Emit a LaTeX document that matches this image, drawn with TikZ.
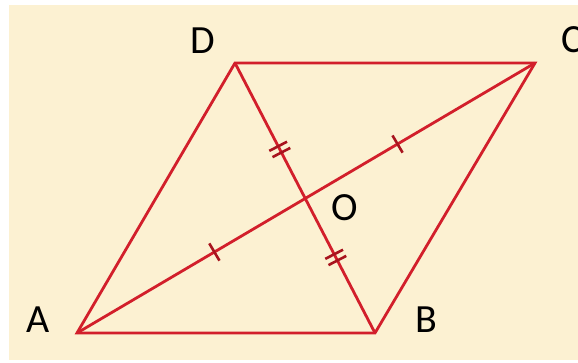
\documentclass[tikz,border=0pt]{standalone}
\usepackage{fontspec}
\setmainfont{Carlito}
\usetikzlibrary{decorations.markings}
\definecolor{PaperCream}{HTML}{FCF1D2}
\definecolor{EdgeRed}{HTML}{D21F2B}
\definecolor{TickRed}{HTML}{A8141E}

\tikzset{
    edge/.style={EdgeRed, line width=2.8pt, line join=miter},
    tickline/.style={TickRed, line width=2.6pt},
    onetick/.style={postaction={decorate, decoration={markings,
        mark=at position #1 with {\draw[tickline] (0,-10pt) -- (0,10pt);}}}},
    twotick/.style={postaction={decorate, decoration={markings,
        mark=at position #1 with {\draw[tickline] (-3.5pt,-10pt) -- (-3.5pt,10pt);
                                  \draw[tickline] (3.5pt,-10pt) -- (3.5pt,10pt);}}}},
    vlabel/.style={font=\fontsize{40}{40}\selectfont, text=black, inner sep=0pt}
}

\begin{document}
\begin{tikzpicture}[x=1pt, y=-1pt]
    % =========================================
    % 1. 背景
    % =========================================
    \useasboundingbox (0,0) rectangle (578,362);
    \fill[white] (0,0) rectangle (578,362);
    \fill[PaperCream] (9,5) rectangle (578,360);

    % =========================================
    % 2. 顶点
    % =========================================
    \coordinate (A) at (77,333);
    \coordinate (B) at (375,333);
    \coordinate (C) at (535,63);
    \coordinate (D) at (235,63);
    \coordinate (O) at (intersection of A--C and B--D);

    % =========================================
    % 3. 平行四边形 + 对角线
    % =========================================
    \draw[edge] (A) -- (B) -- (C) -- (D) -- cycle;
    \draw[edge, onetick=0.3, onetick=0.7] (A) -- (C);
    \draw[edge, twotick=0.32, twotick=0.72] (D) -- (B);

    % =========================================
    % 4. 字母
    % =========================================
    \node[vlabel] (lblA) at (38,320) {A};
    \node[vlabel] (lblB) at (426,320) {B};
    \node[vlabel] (lblC) at (572,40) {C};
    \node[vlabel] (lblD) at (203,41) {D};
    \node[vlabel] (lblO) at (345,208) {O};

\end{tikzpicture}
\end{document}
